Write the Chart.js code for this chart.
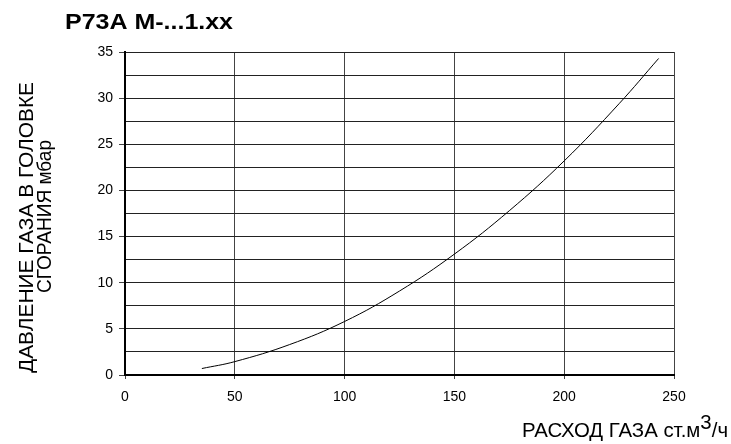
<!DOCTYPE html>
<html><head><meta charset="utf-8">
<script src="https://cdn.jsdelivr.net/npm/chart.js@4/dist/chart.umd.min.js"></script>
<style>html,body{margin:0;padding:0;background:#fff}#wrap{width:731px;height:444px}</style>
</head><body><div id="wrap"><canvas id="c"></canvas></div>
<script>
const chartTitle = "P73A M-...1.xx";
const yTitleLines = ["ДАВЛЕНИЕ ГАЗА В ГОЛОВКЕ", "СГОРАНИЯ мбар"];
const xTitleMain = "РАСХОД ГАЗА ст.м";
const xTitleSup = "3";
const xTitleEnd = "/ч";
const flow = [35, 50, 75, 100, 125, 150, 175, 200, 225, 243];
const pressure = [0.7, 1.45, 3.3, 5.8, 9.1, 13.1, 17.8, 23.2, 29.4, 34.3];
const xTicks = [0, 50, 100, 150, 200, 250];
const yTicks = [0, 5, 10, 15, 20, 25, 30, 35];

const FONT = "'Liberation Sans', Arial, sans-serif";

function fitText(ctx, text, x, y, targetW) {
  const w = ctx.measureText(text).width;
  ctx.save();
  ctx.translate(x, y);
  ctx.scale(targetW / w, 1);
  ctx.fillText(text, 0, 0);
  ctx.restore();
}

const titles = {
  id: 'titles',
  afterDraw(chart) {
    const ctx = chart.ctx;
    ctx.save();
    ctx.fillStyle = '#000';
    ctx.textBaseline = 'alphabetic';
    ctx.textAlign = 'left';
    ctx.font = 'bold 22px ' + FONT;
    fitText(ctx, chartTitle, 65, 29, 168);

    // y title (rotated)
    ctx.font = '20px ' + FONT;
    ctx.save();
    ctx.translate(33, 373);
    ctx.rotate(-Math.PI / 2);
    fitText(ctx, yTitleLines[0], 0, 0, 291);
    ctx.restore();
    ctx.save();
    ctx.translate(51, 293);
    ctx.rotate(-Math.PI / 2);
    fitText(ctx, yTitleLines[1], 0, 0, 153);
    ctx.restore();

    // x title with superscript
    ctx.font = '20px ' + FONT;
    const wMain = ctx.measureText(xTitleMain).width;
    const wSup = ctx.measureText(xTitleSup).width;
    const wEnd = ctx.measureText(xTitleEnd).width;
    const total = wMain + wSup + wEnd;
    const target = 206;
    const k = target / total;
    ctx.save();
    ctx.translate(728 - target, 437);
    ctx.scale(k, 1);
    ctx.fillText(xTitleMain, 0, 0);
    ctx.fillText(xTitleSup, wMain, -8);
    ctx.fillText(xTitleEnd, wMain + wSup, 0);
    ctx.restore();
    ctx.restore();
  }
};

new Chart(document.getElementById('c'), {
  type: 'line',
  data: {
    datasets: [{
      data: flow.map((x, i) => ({ x: x, y: pressure[i] })),
      borderColor: '#000',
      borderWidth: 1,
      pointRadius: 0,
      tension: 0.4,
      fill: false
    }]
  },
  options: {
    responsive: true,
    maintainAspectRatio: false,
    animation: false,
    layout: { padding: { top: 52, right: 57, left: 0, bottom: 0 } },
    plugins: { legend: { display: false }, tooltip: { enabled: false }, title: { display: false } },
    scales: {
      x: {
        type: 'linear', min: 0, max: 250,
        afterBuildTicks(s) { s.ticks = xTicks.map(v => ({ value: v })); },
        afterFit(s) { s.height = 69; },
        ticks: { color: '#000', font: { family: FONT, size: 14 }, padding: 10, maxRotation: 0, callback: v => String(v) },
        grid: { color: '#444', lineWidth: 1, tickLength: 4, tickColor: '#444', drawTicks: true },
        border: { color: '#000', width: 2 }
      },
      y: {
        type: 'linear', min: 0, max: 35,
        afterBuildTicks(s) {
          const t = [];
          for (let v = 0; v <= 35; v += 2.5) t.push({ value: v });
          s.ticks = t;
        },
        afterFit(s) { s.width = 125; },
        ticks: {
          color: '#000', font: { family: FONT, size: 14 }, padding: 6, autoSkip: false,
          callback: v => yTicks.includes(v) ? String(v) : ''
        },
        grid: {
          color: '#222', lineWidth: 1, tickLength: 6,
          tickColor: ctx => (ctx.tick && yTicks.includes(ctx.tick.value)) ? '#444' : 'rgba(0,0,0,0)'
        },
        border: { color: '#000', width: 2 }
      }
    }
  },
  plugins: [titles]
});
</script>
</body></html>
